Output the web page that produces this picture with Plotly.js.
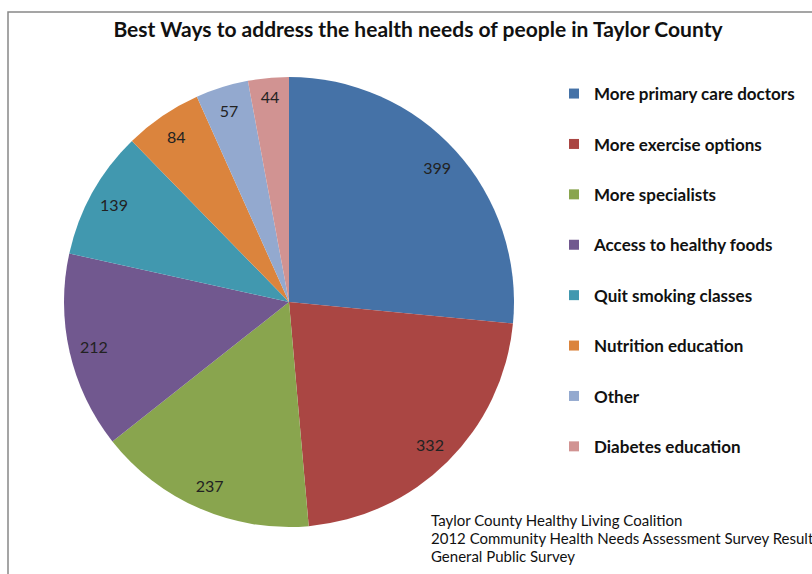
<!DOCTYPE html>
<html>
<head>
<meta charset="utf-8">
<script src="https://cdn.plot.ly/plotly-3.0.1.min.js"></script>
<style>
html,body{margin:0;padding:0;background:#fff;}
#chart{width:812px;height:574px;}
</style>
</head>
<body>
<div id="chart"></div>
<script>
const categories = ["More primary care doctors","More exercise options","More specialists","Access to healthy foods","Quit smoking classes","Nutrition education","Other","Diabetes education"];
const counts = [399, 332, 237, 212, 139, 84, 57, 44];
const colors = ["#4572A7","#AA4643","#89A54E","#71588F","#4198AF","#DB843D","#93A9CF","#D19392"];
const titleText = "Best Ways to address the health needs of people in Taylor County";
const footnote = ["Taylor County Healthy Living Coalition","2012 Community Health Needs Assessment Survey Results","General Public Survey"];

const W = 812, H = 574;
const cx = 289, cy = 302, R = 225;
const dom = {x:[(cx-R)/W,(cx+R)/W], y:[1-(cy+R)/H, 1-(cy-R)/H]};
const FONT = 'Lato, "Open Sans", sans-serif';

const traces = [
  {
    type:'pie', labels:categories, values:counts, sort:false, direction:'clockwise', rotation:0,
    marker:{colors:colors, line:{width:0}}, textinfo:'none', hoverinfo:'skip', showlegend:false, domain:dom
  },
  {
    type:'pie', labels:categories, values:counts, sort:false, direction:'clockwise', rotation:0, hole:0.78,
    marker:{colors:categories.map(()=> 'rgba(0,0,0,0)'), line:{width:0}}, textinfo:'value', textposition:'inside',
    insidetextorientation:'horizontal', textfont:{family:FONT, size:16, color:'#222'},
    hoverinfo:'skip', showlegend:false, domain:dom
  }
];
categories.forEach((c,i)=>{
  traces.push({type:'scatter', mode:'markers', x:[null], y:[null], name:c, legendgroup:'g'+i,
    marker:{symbol:'square', size:10, color:colors[i]}, hoverinfo:'skip'});
});

const annotations = footnote.map((t,i)=>({xref:'paper', yref:'paper', x:429/W, y:1-(520+18*i)/H, xanchor:'left', yanchor:'middle',
  align:'left', showarrow:false, text:t, font:{family:FONT, size:15, color:'#111'}}));

const layout = {
  width:W, height:H, margin:{l:0,r:0,t:0,b:0},
  paper_bgcolor:'#fff', plot_bgcolor:'rgba(0,0,0,0)',
  title:{text:'<b>'+titleText+'</b>', x:418/W, xanchor:'center', y:1-30/H, yanchor:'middle',
    font:{family:FONT, size:21, color:'#111'}},
  xaxis:{visible:false}, yaxis:{visible:false},
  showlegend:true,
  legend:{x:554/W, xanchor:'left', y:1-76/H, yanchor:'top', tracegroupgap:25.3, traceorder:'grouped',
    font:{family:FONT, size:17, color:'#111', weight:'bold'}, bgcolor:'rgba(0,0,0,0)', borderwidth:0},
  annotations:annotations,
  shapes:[{type:'rect', xref:'paper', yref:'paper', x0:8/W, x1:1.05, y0:-0.05, y1:1-12/H, line:{color:'#888', width:1.5}, fillcolor:'rgba(0,0,0,0)'}]
};
Plotly.newPlot('chart', traces, layout, {displayModeBar:false, staticPlot:true});
</script>
</body>
</html>
